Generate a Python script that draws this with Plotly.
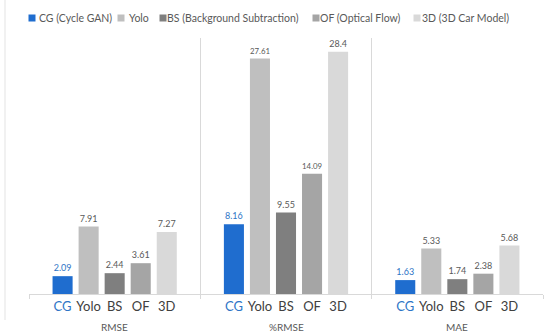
import plotly.graph_objects as go

metrics = ["RMSE", "%RMSE", "MAE"]
series_short = ["CG", "Yolo", "BS", "OF", "3D"]
series_long = ["CG (Cycle GAN)", "Yolo", "BS (Background Subtraction)", "OF (Optical Flow)", "3D (3D Car Model)"]
cg_vals = [2.09, 8.16, 1.63]
yolo_vals = [7.91, 27.61, 5.33]
bs_vals = [2.44, 9.55, 1.74]
of_vals = [3.61, 14.09, 2.38]
d3_vals = [7.27, 28.4, 5.68]
values = [cg_vals, yolo_vals, bs_vals, of_vals, d3_vals]
colors = ["#1f6dcf", "#bfbfbf", "#7f7f7f", "#a5a5a5", "#d9d9d9"]
label_colors = ["#2e75c6", "#595959", "#595959", "#595959", "#595959"]

W, H = 550, 336
ML, MR, MT, MB = 29, 7, 38, 42
PW, PH = W - ML - MR, H - MT - MB

BARGAP = 0.24
GROUPGAP = 0.23
FONT = "Lato, 'Open Sans', sans-serif"

xs = list(range(len(metrics)))
fig = go.Figure()
for i, (name, vals) in enumerate(zip(series_long, values)):
    fig.add_trace(go.Bar(
        x=xs, y=vals, name=name,
        marker=dict(color=colors[i], line=dict(width=0)),
        text=[f"{v:g}" for v in vals], textposition="outside",
        textfont=dict(size=9, color=label_colors[i], family=FONT),
        cliponaxis=False, showlegend=False,
    ))

n = len(series_short)
slot = (1 - BARGAP) / n
tickvals, ticktext = [], []
for c in xs:
    for i, s in enumerate(series_short):
        tickvals.append(c + (i - (n - 1) / 2) * slot)
        col = "#2e75c6" if i == 0 else "#404040"
        ticktext.append(f"<span style='color:{col}'>{s}</span>")

annotations = []
for c, m in zip(xs, metrics):
    annotations.append(dict(x=c, xref="x", y=(MT + PH - 327) / PH, yref="paper",
                            text=m, showarrow=False, yanchor="middle",
                            font=dict(size=10, color="#595959", family=FONT)))

# legend (manual, to match compact spacing)
sq_x = [32, 121, 163, 316, 417]
txt_x = [38, 128, 166, 319, 421]
leg_y = (MT + PH - 18) / PH
shapes = []
for i, name in enumerate(series_long):
    shapes.append(dict(type="rect", xref="paper", yref="paper",
                       xsizemode="pixel", ysizemode="pixel",
                       xanchor=(sq_x[i] - ML) / PW, yanchor=leg_y,
                       x0=-3.5, x1=3.5, y0=-3.5, y1=3.5,
                       fillcolor=colors[i], line=dict(width=0)))
    annotations.append(dict(x=(txt_x[i] - ML) / PW, xref="paper", y=leg_y, yref="paper",
                            text=name, showarrow=False, xanchor="left", yanchor="middle",
                            xshift=-1,
                            font=dict(size=10.5, color="#595959", family=FONT)))

# faint outer frame line at the left
shapes.append(dict(type="line", xref="paper", yref="paper",
                   x0=(5 - ML) / PW, x1=(5 - ML) / PW,
                   y0=(MT + PH) / PH, y1=(MT + PH - 320) / PH,
                   line=dict(color="#e3e3e3", width=1)))

fig.update_layout(
    width=W, height=H,
    margin=dict(l=ML, r=MR, t=MT, b=MB),
    paper_bgcolor="white", plot_bgcolor="white",
    barmode="group", bargap=BARGAP, bargroupgap=GROUPGAP,
    font=dict(family=FONT),
    xaxis=dict(range=[-0.5, len(metrics) - 0.5], tickmode="array",
               tickvals=tickvals, ticktext=ticktext, ticks="",
               tickfont=dict(size=13, color="#404040", family=FONT),
               showgrid=False, showline=True, linecolor="#d9d9d9", linewidth=1,
               zeroline=False,
               minor=dict(tickmode="array", tickvals=[-0.5, 0.5, 1.5, 2.5],
                          showgrid=True, gridcolor="#d9d9d9", gridwidth=1,
                          ticks="outside", ticklen=4, tickcolor="#d9d9d9")),
    yaxis=dict(range=[0, 30], visible=False, showgrid=False, zeroline=False),
    annotations=annotations, shapes=shapes,
)

fig.write_html("out.html", config={"displayModeBar": False},
               post_script="document.body.style.margin='0';")
